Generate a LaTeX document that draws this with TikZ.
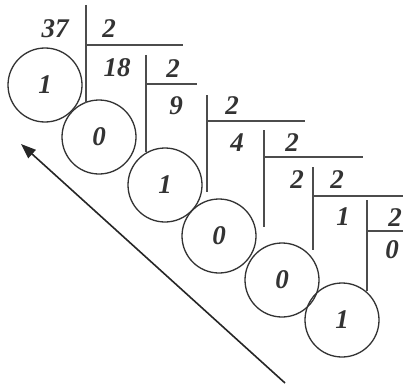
\documentclass[tikz,border=0pt]{standalone}
\usepackage{fontspec}
\setmainfont{Liberation Serif}
\usetikzlibrary{arrows.meta}
\begin{document}
\begin{tikzpicture}[x=1pt,y=-1pt,
  dig/.style={font=\fontsize{27}{27}\selectfont\bfseries\itshape, text=black!80, inner sep=0pt},
  bit/.style={circle, draw=black!80, line width=1.3pt, minimum size=74pt, inner sep=0pt, font=\fontsize{27}{27}\selectfont\bfseries\itshape, text=black!80},
  rule/.style={draw=black!70, line width=1.8pt},
  arr/.style={draw=black!85, line width=1.6pt, -{Triangle[length=15pt,width=11pt]}}]
\path[use as bounding box, fill=white] (0,0) rectangle (403,385);
% remainder circles
\node[bit] (c1) at (45,85) {1};
\node[bit] (c2) at (99,137) {0};
\node[bit] (c3) at (165,185) {1};
\node[bit] (c4) at (219,236) {0};
\node[bit] (c5) at (282,280) {0};
\node[bit] (c6) at (342,320) {1};
% numbers
\node[dig] (n37) at (55,29) {37};
\node[dig] (d1) at (109,29) {2};
\node[dig] (n18) at (117,68) {18};
\node[dig] (d2) at (173,69) {2};
\node[dig] (n9) at (176,106) {9};
\node[dig] (d3) at (232,106) {2};
\node[dig] (n4) at (237,143) {4};
\node[dig] (d4) at (292,143) {2};
\node[dig] (n2) at (297,180) {2};
\node[dig] (d5) at (337,180) {2};
\node[dig] (n1) at (343,217) {1};
\node[dig] (d6) at (395,218) {2};
\node[dig] (n0) at (392,250) {0};
% division rules
\draw[rule] (86,5) -- (86,103) (86,45) -- (183,45);
\draw[rule] (146,55) -- (146,152) (146,84) -- (197,84);
\draw[rule] (207,95) -- (207,192) (207,121) -- (305,121);
\draw[rule] (264,130) -- (264,227) (264,157) -- (363,157);
\draw[rule] (313,167) -- (313,250) (313,196) -- (403,196);
\draw[rule] (367,200) -- (367,291) (367,231) -- (403,231);
% reading direction arrow
\coordinate (as) at (285,383);
\coordinate (ae) at (21,144);
\draw[arr] (as) -- (ae);
\end{tikzpicture}
\end{document}
